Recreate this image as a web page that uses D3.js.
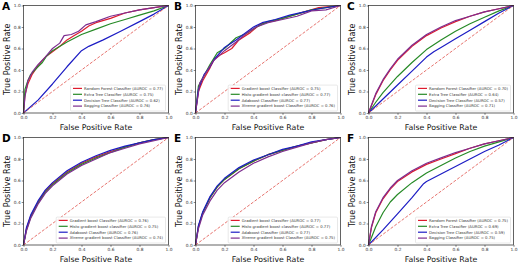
<!DOCTYPE html>
<html>
<head>
<meta charset="utf-8">
<script src="https://cdn.jsdelivr.net/npm/d3@7"></script>
<style>
body { margin: 0; background: #fff; }
svg { display: block; font-family: "DejaVu Sans", sans-serif; }
</style>
</head>
<body>
<div id="chart"></div>
<script>
"use strict";

// Legend names
const forestNames = ["Random Forest Classifier", "Extra Tree Classifier", "Decision Tree Classifier", "Bagging Classifier"];
const boostNames = ["Gradient boost Classifier", "Histo gradient boost classifier", "Adaboost Classifier", "Xtreme gradient boost Classifier"];

// AUROC values per panel (same order as names)
const aurocA = [0.77, 0.75, 0.62, 0.76];
const aurocB = [0.75, 0.77, 0.77, 0.76];
const aurocC = [0.70, 0.64, 0.57, 0.71];
const aurocD = [0.76, 0.75, 0.76, 0.74];
const aurocE = [0.77, 0.77, 0.77, 0.75];
const aurocF = [0.75, 0.69, 0.59, 0.75];

const ticks = [0, 0.2, 0.4, 0.6, 0.8, 1.0];

// ROC points [fpr, tpr]
const rocA_rf = [[0,0],[0.01,0.17],[0.03,0.27],[0.06,0.36],[0.1,0.44],[0.15,0.52],[0.2,0.57],[0.25,0.62],[0.3,0.68],[0.35,0.72],[0.4,0.76],[0.45,0.81],[0.5,0.84],[0.6,0.88],[0.7,0.93],[0.8,0.96],[0.9,0.98],[1,1]];
const rocA_et = [[0,0],[0.01,0.22],[0.03,0.3],[0.05,0.36],[0.1,0.43],[0.13,0.47],[0.16,0.53],[0.2,0.58],[0.3,0.66],[0.4,0.73],[0.5,0.78],[0.6,0.83],[0.7,0.87],[0.8,0.91],[0.9,0.95],[1,1]];
const rocA_dt = [[0,0],[0.1,0.12],[0.2,0.27],[0.3,0.43],[0.4,0.58],[0.45,0.62],[0.55,0.68],[0.67,0.76],[0.8,0.85],[0.9,0.92],[1,1]];
const rocA_bg = [[0,0],[0.01,0.15],[0.03,0.3],[0.06,0.38],[0.1,0.45],[0.15,0.52],[0.2,0.6],[0.25,0.65],[0.28,0.72],[0.33,0.73],[0.38,0.76],[0.43,0.82],[0.5,0.85],[0.6,0.9],[0.7,0.93],[0.8,0.96],[0.9,0.98],[1,1]];

const rocB_gb = [[0,0],[0.02,0.2],[0.05,0.3],[0.1,0.42],[0.13,0.5],[0.17,0.54],[0.2,0.56],[0.25,0.6],[0.3,0.68],[0.38,0.75],[0.45,0.83],[0.55,0.86],[0.65,0.9],[0.75,0.94],[0.85,0.98],[1,1]];
const rocB_hg = [[0,0],[0.02,0.25],[0.06,0.35],[0.1,0.45],[0.15,0.56],[0.2,0.6],[0.28,0.7],[0.35,0.74],[0.42,0.8],[0.5,0.85],[0.6,0.88],[0.7,0.92],[0.8,0.96],[0.9,0.98],[1,1]];
const rocB_ada = [[0,0],[0.02,0.22],[0.06,0.36],[0.1,0.43],[0.13,0.5],[0.2,0.61],[0.28,0.68],[0.33,0.73],[0.4,0.8],[0.46,0.84],[0.55,0.87],[0.65,0.91],[0.75,0.94],[0.85,0.97],[1,1]];
const rocB_xg = [[0,0],[0.03,0.28],[0.07,0.37],[0.12,0.48],[0.2,0.58],[0.28,0.66],[0.36,0.75],[0.42,0.8],[0.5,0.84],[0.6,0.87],[0.7,0.9],[0.8,0.95],[0.9,0.96],[1,1]];

const rocC_rf = [[0,0],[0.05,0.17],[0.1,0.3],[0.15,0.4],[0.2,0.49],[0.3,0.62],[0.4,0.72],[0.5,0.79],[0.6,0.85],[0.7,0.9],[0.8,0.94],[0.9,0.97],[1,1]];
const rocC_et = [[0,0],[0.05,0.1],[0.1,0.19],[0.2,0.34],[0.3,0.47],[0.4,0.59],[0.5,0.68],[0.6,0.76],[0.7,0.83],[0.8,0.89],[0.9,0.95],[1,1]];
const rocC_dt = [[0,0],[0.1,0.13],[0.2,0.26],[0.3,0.39],[0.4,0.52],[0.45,0.57],[0.5,0.61],[0.6,0.69],[0.7,0.77],[0.8,0.85],[0.9,0.93],[1,1]];
const rocC_bg = [[0,0],[0.05,0.18],[0.1,0.31],[0.15,0.41],[0.2,0.5],[0.3,0.63],[0.4,0.73],[0.5,0.8],[0.6,0.86],[0.7,0.9],[0.8,0.94],[0.9,0.97],[1,1]];

const rocD_gb = [[0,0],[0.02,0.15],[0.05,0.27],[0.1,0.4],[0.15,0.5],[0.2,0.57],[0.3,0.68],[0.4,0.76],[0.5,0.82],[0.6,0.87],[0.7,0.91],[0.8,0.95],[0.9,0.98],[1,1]];
const rocD_hg = [[0,0],[0.02,0.14],[0.05,0.26],[0.1,0.39],[0.15,0.49],[0.2,0.56],[0.3,0.67],[0.4,0.75],[0.5,0.81],[0.6,0.86],[0.7,0.91],[0.8,0.95],[0.9,0.98],[1,1]];
const rocD_ada = [[0,0],[0.02,0.16],[0.05,0.28],[0.1,0.41],[0.15,0.51],[0.2,0.58],[0.3,0.69],[0.4,0.77],[0.5,0.83],[0.6,0.88],[0.7,0.92],[0.8,0.95],[0.9,0.98],[1,1]];
const rocD_xg = [[0,0],[0.02,0.13],[0.05,0.25],[0.1,0.38],[0.15,0.48],[0.2,0.55],[0.3,0.66],[0.4,0.74],[0.5,0.8],[0.6,0.86],[0.7,0.9],[0.8,0.94],[0.9,0.97],[1,1]];

const rocE_gb = [[0,0],[0.02,0.17],[0.05,0.3],[0.1,0.44],[0.15,0.54],[0.2,0.61],[0.3,0.71],[0.4,0.78],[0.5,0.84],[0.6,0.88],[0.7,0.92],[0.8,0.95],[0.9,0.98],[1,1]];
const rocE_hg = [[0,0],[0.02,0.17],[0.05,0.3],[0.1,0.44],[0.15,0.54],[0.2,0.61],[0.3,0.71],[0.4,0.78],[0.5,0.84],[0.6,0.88],[0.7,0.92],[0.8,0.95],[0.9,0.98],[1,1]];
const rocE_ada = [[0,0],[0.02,0.18],[0.05,0.31],[0.1,0.45],[0.15,0.55],[0.2,0.62],[0.3,0.72],[0.4,0.79],[0.5,0.84],[0.6,0.89],[0.7,0.92],[0.8,0.96],[0.9,0.98],[1,1]];
const rocE_xg = [[0,0],[0.02,0.15],[0.05,0.28],[0.1,0.41],[0.15,0.51],[0.2,0.58],[0.3,0.68],[0.4,0.76],[0.5,0.82],[0.6,0.87],[0.7,0.91],[0.8,0.95],[0.9,0.98],[1,1]];

const rocF_rf = [[0,0],[0.02,0.16],[0.05,0.3],[0.1,0.43],[0.15,0.52],[0.2,0.59],[0.3,0.68],[0.4,0.75],[0.5,0.8],[0.6,0.85],[0.7,0.9],[0.8,0.94],[0.9,0.97],[1,1]];
const rocF_et = [[0,0],[0.05,0.17],[0.1,0.3],[0.15,0.4],[0.2,0.47],[0.3,0.58],[0.4,0.67],[0.5,0.74],[0.6,0.81],[0.7,0.87],[0.8,0.92],[0.9,0.96],[1,1]];
const rocF_dt = [[0,0],[0.1,0.14],[0.2,0.29],[0.3,0.44],[0.38,0.57],[0.4,0.59],[0.5,0.66],[0.6,0.73],[0.7,0.8],[0.8,0.87],[0.9,0.93],[1,1]];
const rocF_bg = [[0,0],[0.02,0.17],[0.05,0.31],[0.1,0.44],[0.15,0.53],[0.2,0.6],[0.3,0.69],[0.4,0.76],[0.5,0.81],[0.6,0.86],[0.7,0.9],[0.8,0.94],[0.9,0.97],[1,1]];

const lineColors = ["#de1b2e", "#268a26", "#1c1cc4", "#7d2d8f"];

// panel table built from the arrays above
const panels = [
	{ letter: "A", names: forestNames, auroc: aurocA, curves: [rocA_rf, rocA_et, rocA_dt, rocA_bg] },
	{ letter: "B", names: boostNames, auroc: aurocB, curves: [rocB_gb, rocB_hg, rocB_ada, rocB_xg] },
	{ letter: "C", names: forestNames, auroc: aurocC, curves: [rocC_rf, rocC_et, rocC_dt, rocC_bg] },
	{ letter: "D", names: boostNames, auroc: aurocD, curves: [rocD_gb, rocD_hg, rocD_ada, rocD_xg] },
	{ letter: "E", names: boostNames, auroc: aurocE, curves: [rocE_gb, rocE_hg, rocE_ada, rocE_xg] },
	{ letter: "F", names: forestNames, auroc: aurocF, curves: [rocF_rf, rocF_et, rocF_dt, rocF_bg] }
];

const Width = 520, Height = 265;
const colLeft = [23.5, 195.5, 368.5];
const rowTop = [5.5, 137.5];
const plotW = 145, plotH = 107.5;

const svg = d3.select("#chart").append("svg")
	.attr("width", Width)
	.attr("height", Height);

panels.forEach((p, i) => {
	const ox = colLeft[i % 3], oy = rowTop[Math.floor(i / 3)];
	const g = svg.append("g").attr("transform", `translate(${ox},${oy})`);

	const x = d3.scaleLinear().domain([0, 1]).range([0, plotW]);
	const y = d3.scaleLinear().domain([0, 1]).range([plotH, 0]);

	// axes
	const xAxis = g.append("g").attr("transform", `translate(0,${plotH})`)
		.call(d3.axisBottom(x).tickValues(ticks).tickFormat(d3.format(".1f")).tickSize(1.8).tickPadding(1));
	const yAxis = g.append("g")
		.call(d3.axisLeft(y).tickValues(ticks).tickFormat(d3.format(".1f")).tickSize(1.8).tickPadding(1));
	[xAxis, yAxis].forEach(a => {
		a.select(".domain").remove();
		a.selectAll("line").attr("stroke", "#333").attr("stroke-width", 0.6);
		a.selectAll("text").attr("font-size", 4.3).attr("fill", "#333").attr("font-family", "DejaVu Sans");
	});

	const line = d3.line().x(d => x(d[0])).y(d => y(d[1]));

	p.curves.forEach((c, k) => {
		g.append("path")
			.datum(c)
			.attr("d", line)
			.attr("fill", "none")
			.attr("stroke", lineColors[k])
			.attr("stroke-width", 1.2)
			.attr("stroke-linejoin", "round");
	});

	// chance diagonal
	g.append("path")
		.datum([[0, 0], [1, 1]])
		.attr("d", line)
		.attr("fill", "none")
		.attr("stroke", "#e0504a")
		.attr("stroke-width", 0.8)
		.attr("stroke-dasharray", "3,1.6");

	// frame
	g.append("rect")
		.attr("width", plotW).attr("height", plotH)
		.attr("fill", "none").attr("stroke", "#222").attr("stroke-width", 0.7);

	// legend, lower right
	const fs = 3.8, rowH = 5.9;
	const lg = g.append("g");
	const texts = p.names.map((n, k) => `${n} (AUROC = ${p.auroc[k].toFixed(2)})`);
	const tItems = lg.selectAll("text").data(texts).enter().append("text")
		.attr("font-size", fs).attr("fill", "#333")
		.text(d => d);
	let maxW = 0;
	tItems.each(function () { maxW = Math.max(maxW, this.getComputedTextLength()); });
	const boxW = maxW + 16, boxH = rowH * 4 + 2.3;
	const bx = plotW - 3 - boxW, by = plotH - 2 - boxH;
	lg.insert("rect", "text")
		.attr("x", bx).attr("y", by).attr("width", boxW).attr("height", boxH)
		.attr("rx", 1).attr("fill", "#fff").attr("fill-opacity", 0.85)
		.attr("stroke", "#d0d0d0").attr("stroke-width", 0.5);
	tItems.attr("x", bx + 13.5).attr("y", (d, k) => by + 3.3 + rowH * k + fs * 0.35);
	lg.selectAll("line.handle").data(texts).enter().append("line")
		.attr("class", "handle")
		.attr("x1", bx + 2.5).attr("x2", bx + 11.5)
		.attr("y1", (d, k) => by + 3.3 + rowH * k)
		.attr("y2", (d, k) => by + 3.3 + rowH * k)
		.attr("stroke", (d, k) => lineColors[k]).attr("stroke-width", 1.2);

	// axis titles
	g.append("text")
		.attr("x", plotW / 2).attr("y", plotH + 17)
		.attr("text-anchor", "middle").attr("font-size", 7.8).attr("fill", "#111")
		.text("False Positive Rate");
	g.append("text")
		.attr("transform", `translate(-14,${plotH / 2}) rotate(-90)`)
		.attr("text-anchor", "middle").attr("font-size", 8).attr("fill", "#111")
		.text("True Positive Rate");

	// panel letter
	g.append("text")
		.attr("x", -21.5).attr("y", 4.5)
		.attr("font-size", 10.5).attr("font-weight", "bold").attr("fill", "#000")
		.text(p.letter);
});
</script>
</body>
</html>
